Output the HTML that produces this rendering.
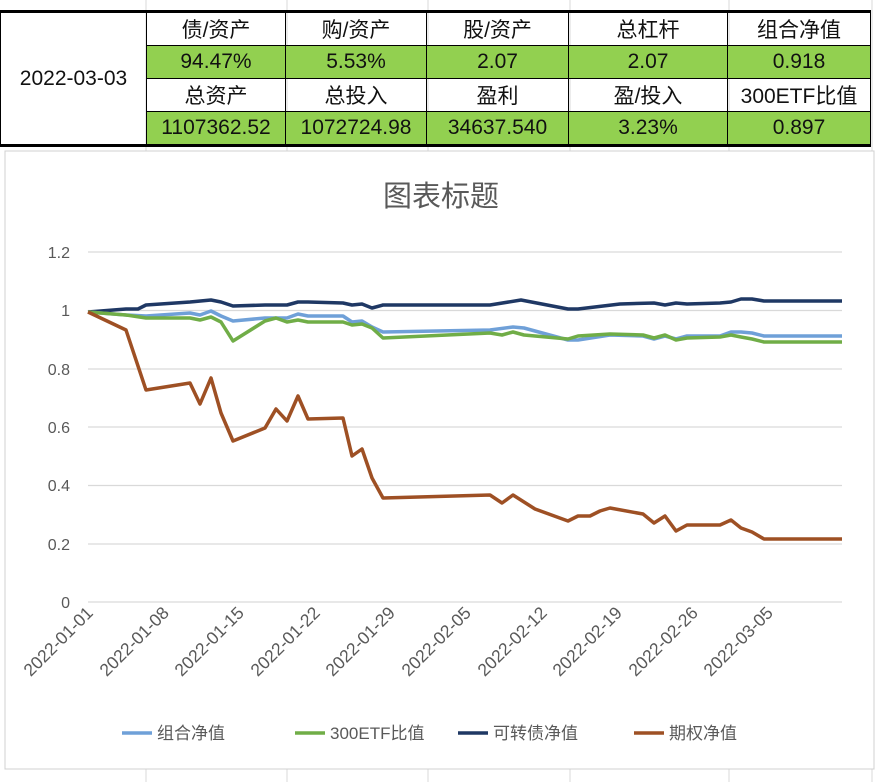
<!DOCTYPE html>
<html><head><meta charset="utf-8"><style>
body{margin:0;width:891px;height:782px;background:#fff;overflow:hidden;position:relative;font-family:"Liberation Sans","Noto Sans CJK SC",sans-serif}
table{position:absolute;left:0;top:10px;border-collapse:collapse;border-top:3px solid #000;border-bottom:3px solid #000}
td{border:1.5px solid #000;text-align:center;font-size:21px;height:32px;padding:0;color:#111}
td.g{background:#92d050}
</style></head><body>
<svg width="891" height="782" style="position:absolute;left:0;top:0">
<g stroke="#d9d9d9" stroke-width="1">
<line x1="146" y1="0" x2="146" y2="782"/><line x1="287" y1="0" x2="287" y2="782"/><line x1="428" y1="0" x2="428" y2="782"/><line x1="570" y1="0" x2="570" y2="782"/><line x1="729" y1="0" x2="729" y2="782"/><line x1="872" y1="0" x2="872" y2="782"/>
</g>
<rect x="5" y="151" width="869" height="618" fill="#fff" stroke="#d0d0d0"/>
<text x="441" y="206" text-anchor="middle" font-size="29" fill="#595959" font-family="Liberation Sans,Noto Sans CJK SC,sans-serif">图表标题</text>
<g stroke="#d9d9d9" stroke-width="1.2">
<line x1="88" x2="842" y1="252" y2="252"/><line x1="88" x2="842" y1="310.5" y2="310.5"/><line x1="88" x2="842" y1="369" y2="369"/><line x1="88" x2="842" y1="427" y2="427"/><line x1="88" x2="842" y1="485.5" y2="485.5"/><line x1="88" x2="842" y1="544" y2="544"/><line x1="88" x2="842" y1="602" y2="602"/>
</g>
<g font-size="16" fill="#595959" text-anchor="end">
<text x="70" y="258">1.2</text><text x="70" y="316">1</text><text x="70" y="375">0.8</text><text x="70" y="433">0.6</text><text x="70" y="491">0.4</text><text x="70" y="550">0.2</text><text x="70" y="608">0</text>
</g>
<g font-size="17.5" fill="#595959" text-anchor="end">
<text transform="translate(94,614) rotate(-45)">2022-01-01</text>
<text transform="translate(170,614) rotate(-45)">2022-01-08</text>
<text transform="translate(245,614) rotate(-45)">2022-01-15</text>
<text transform="translate(321,614) rotate(-45)">2022-01-22</text>
<text transform="translate(396,614) rotate(-45)">2022-01-29</text>
<text transform="translate(472,614) rotate(-45)">2022-02-05</text>
<text transform="translate(548,614) rotate(-45)">2022-02-12</text>
<text transform="translate(623,614) rotate(-45)">2022-02-19</text>
<text transform="translate(699,614) rotate(-45)">2022-02-26</text>
<text transform="translate(774,614) rotate(-45)">2022-03-05</text>
</g>
<g fill="none" stroke-width="3.5" stroke-linejoin="round">
<polyline stroke="#1f3864" points="88,312 126,309 138,309 146,305 190,302 211,300 221,302 233,306 265,305 287,305 298,302 308,302 343,303 352,305 362,304 372,308 383,305 490,305 521,300 568,309 578,309 620,304 654,303 665,305 676,303 687,304 720,303 731,302 741,299 752,299 764,301 842,301"/>
<polyline stroke="#6fa0d8" points="88,312 126,315 146,316 190,313 200,315 211,311 221,316 233,321 265,318 287,318 298,314 308,316 343,316 352,322 362,321 372,327 383,332 490,330 513,327 524,328 568,340 578,340 610,335 643,336 654,339 665,336 676,339 687,336 720,336 731,332 741,332 752,333 764,336 842,336"/>
<polyline stroke="#70ad47" points="88,312 126,315 146,318 190,318 200,320 211,317 221,322 233,341 265,321 276,318 287,322 298,320 308,322 343,322 352,325 362,324 372,328 383,338 490,333 502,335 513,332 524,335 568,339 578,336 610,334 643,335 654,338 665,335 676,340 687,338 720,337 731,335 741,337 752,339 764,342 842,342"/>
<polyline stroke="#9e5024" points="88,312 126,330 146,390 190,383 200,404 211,378 221,413 233,441 265,428 276,409 287,421 298,396 308,419 343,418 352,456 362,449 372,478 383,498 490,495 502,503 513,495 524,502 535,509 568,521 578,516 590,516 600,511 610,508 643,514 654,523 665,516 676,531 687,525 720,525 731,520 741,528 752,532 764,539 842,539"/>
</g>
<g stroke-width="3.5">
<line x1="122" y1="733" x2="152" y2="733" stroke="#6fa0d8"/>
<line x1="295" y1="733" x2="325" y2="733" stroke="#70ad47"/>
<line x1="458" y1="733" x2="488" y2="733" stroke="#1f3864"/>
<line x1="634" y1="733" x2="664" y2="733" stroke="#9e5024"/>
</g>
<g font-size="17" fill="#595959">
<text x="157" y="739">组合净值</text><text x="330" y="739">300ETF比值</text><text x="493" y="739">可转债净值</text><text x="669" y="739">期权净值</text>
</g>
</svg>
<table>
<tr><td rowspan="4" style="width:145px">2022-03-03</td><td style="width:138px">债/资产</td><td style="width:140px">购/资产</td><td style="width:141px">股/资产</td><td style="width:158px">总杠杆</td><td style="width:142px">组合净值</td></tr>
<tr><td class="g">94.47%</td><td class="g">5.53%</td><td class="g">2.07</td><td class="g">2.07</td><td class="g">0.918</td></tr>
<tr><td>总资产</td><td>总投入</td><td>盈利</td><td>盈/投入</td><td>300ETF比值</td></tr>
<tr><td class="g">1107362.52</td><td class="g">1072724.98</td><td class="g">34637.540</td><td class="g">3.23%</td><td class="g">0.897</td></tr>
</table>
</body></html>
